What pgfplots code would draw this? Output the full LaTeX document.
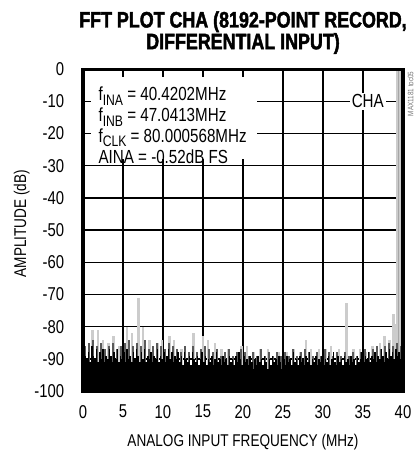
\documentclass[border=0pt]{standalone}
\usepackage{pgfplots}
\pgfplotsset{compat=1.18}
\usepackage{pgfplotstable}
\usepackage{fontspec}
\setmainfont{Liberation Sans}[FakeStretch=0.8]
\newfontfamily\titlefont{Liberation Sans Bold}[FakeStretch=0.8,FakeBold=2]
\newcommand{\sbs}[1]{\raisebox{-0.45ex}{\fontsize{7.7}{8}\selectfont #1}}

% noise floor envelope (dB)
\pgfplotstableread{
f db
0 -88
0.5 -92
1 -91
1.5 -93
2 -92
2.5 -94
3 -92
3.5 -93
4 -91
4.5 -94
5 -92
5.5 -93
6 -91
6.5 -94
7 -92
7.5 -93
8 -94
8.5 -92
9 -93
9.5 -95
10 -92
10.5 -94
11 -93
11.5 -95
12 -93
12.5 -94
13 -95
13.5 -93
14 -94
14.5 -96
15 -93
15.5 -95
16 -94
16.5 -95
17 -93
17.5 -95
18 -96
18.5 -94
19 -95
19.5 -93
20 -94
20.5 -96
21 -94
21.5 -95
22 -93
22.5 -95
23 -96
23.5 -94
24 -95
24.5 -93
25 -95
25.5 -96
26 -94
26.5 -95
27 -93
27.5 -95
28 -94
28.5 -96
29 -94
29.5 -95
30 -93
30.5 -95
31 -94
31.5 -96
32 -94
32.5 -93
33 -95
33.5 -94
34 -95
34.5 -93
35 -94
35.5 -92
36 -94
36.5 -93
37 -92
37.5 -94
38 -92
38.5 -93
39 -91
39.5 -92
40 -91
}\floor

% dark noise spikes (dB)
\pgfplotstableread{
f db
0.1 -87
0.3 -89
0.5 -90
0.7 -88
0.9 -91
1.1 -86
1.3 -89
1.5 -90
1.7 -87
1.9 -91
2.1 -88
2.3 -90
2.5 -87
2.7 -91
2.9 -89
3.1 -90
3.3 -87
3.5 -89
3.7 -91
3.9 -88
4.1 -90
4.3 -87
4.5 -91
4.7 -89
4.9 -90
5.1 -88
5.3 -91
5.5 -87
5.7 -90
5.9 -89
6.1 -91
6.3 -88
6.5 -90
6.7 -87
6.9 -89
7.1 -91
7.3 -88
7.5 -90
7.7 -87
7.9 -91
8.1 -89
8.3 -90
8.5 -88
8.7 -91
8.9 -89
9.1 -90
9.3 -87
9.5 -91
9.7 -89
9.9 -90
10.1 -88
10.3 -91
10.5 -89
10.7 -87
10.9 -90
11.1 -88
11.3 -91
11.5 -89
11.7 -90
11.9 -88
12.1 -91
12.3 -89
12.5 -92
12.7 -88
12.9 -90
13.1 -91
13.3 -89
13.5 -92
13.7 -88
13.9 -90
14.1 -91
14.3 -89
14.5 -92
14.7 -90
14.9 -88
15.1 -91
15.3 -89
15.5 -92
15.7 -90
15.9 -91
16.1 -89
16.3 -92
16.5 -90
16.7 -88
16.9 -91
17.1 -90
17.3 -92
17.5 -89
17.7 -91
17.9 -90
18.1 -92
18.3 -89
18.5 -91
18.7 -90
18.9 -92
19.1 -89
19.3 -91
19.5 -88
19.7 -90
19.9 -92
20.1 -89
20.3 -91
20.5 -90
20.7 -92
20.9 -89
21.1 -91
21.3 -93
21.5 -90
21.7 -92
21.9 -89
22.1 -91
22.3 -90
22.5 -92
22.7 -89
22.9 -91
23.1 -93
23.3 -90
23.5 -92
23.7 -89
23.9 -91
24.1 -90
24.3 -92
24.5 -89
24.7 -91
24.9 -93
25.1 -90
25.3 -92
25.5 -89
25.7 -91
25.9 -90
26.1 -92
26.3 -88
26.5 -91
26.7 -90
26.9 -92
27.1 -89
27.3 -91
27.5 -90
27.7 -92
27.9 -89
28.1 -91
28.3 -88
28.5 -92
28.7 -90
28.9 -91
29.1 -89
29.3 -92
29.5 -90
29.7 -91
29.9 -89
30.1 -92
30.3 -90
30.5 -91
30.7 -89
30.9 -92
31.1 -90
31.3 -88
31.5 -91
31.7 -92
31.9 -89
32.1 -91
32.3 -90
32.5 -92
32.7 -89
32.9 -91
33.1 -90
33.3 -92
33.5 -89
33.7 -91
33.9 -90
34.1 -92
34.3 -89
34.5 -91
34.7 -90
34.9 -88
35.1 -91
35.3 -89
35.5 -90
35.7 -88
35.9 -91
36.1 -89
36.3 -90
36.5 -88
36.7 -91
36.9 -89
37.1 -90
37.3 -87
37.5 -89
37.7 -91
37.9 -88
38.1 -90
38.3 -87
38.5 -89
38.7 -88
38.9 -90
39.1 -87
39.3 -89
39.5 -88
39.7 -90
39.9 -88
}\dark

% medium grey spikes (dB)
\pgfplotstableread{
f db
0.25 -86
0.75 -85
1.25 -84
1.75 -86
2.25 -85
2.75 -87
3.25 -86
3.75 -85
4.25 -87
4.75 -86
5.25 -85
5.75 -84
6.25 -86
6.75 -85
7.25 -86
7.75 -84
8.25 -87
8.75 -86
9.25 -85
9.75 -86
10.25 -87
10.75 -85
11.25 -86
11.75 -87
12.25 -88
12.75 -86
13.25 -88
13.75 -86
14.25 -88
14.75 -87
15.25 -86
15.75 -87
16.25 -88
16.75 -87
17.25 -89
17.75 -88
18.25 -87
18.75 -89
19.25 -88
19.75 -87
20.25 -88
20.75 -89
21.25 -88
21.75 -89
22.25 -87
22.75 -89
23.25 -88
23.75 -89
24.25 -88
24.75 -89
25.25 -88
25.75 -89
26.25 -87
26.75 -89
27.25 -88
27.75 -87
28.25 -88
28.75 -89
29.25 -88
29.75 -89
30.25 -87
30.75 -88
31.25 -89
31.75 -88
32.25 -89
32.75 -88
33.25 -89
33.75 -88
34.25 -89
34.75 -88
35.25 -87
35.75 -88
36.25 -87
36.75 -86
37.25 -87
37.75 -86
38.25 -85
38.75 -86
39.25 -85
39.75 -86
}\mid

% tall light spurs (dB)
\pgfplotstableread{
f db
1.2 -81
1.9 -81
2.5 -84
3.2 -85
3.8 -83
4.5 -86
5.5 -80
6.1 -82
6.95 -71
7.5 -80
8.3 -84
9.3 -85
9.9 -84
10.8 -83
11.4 -84
12.3 -87
13.8 -82
15.0 -83
15.6 -84
16.5 -85
17.3 -87
18.2 -87
19.8 -86
20.5 -86
21.4 -88
22.2 -87
23.1 -87
24.5 -88
25.5 -88
26.3 -87
27.1 -88
27.9 -84
28.5 -87
29.5 -87
30.3 -87
31.0 -86
32.0 -87
32.95 -72.5
33.8 -87
34.6 -87
35.4 -88
36.2 -86
37.1 -85
37.7 -83
38.3 -84
38.8 -76
39.2 -79
}\tall

\begin{document}
\begin{tikzpicture}
\begin{axis}[
  name=ax,
  width=162pt, height=163pt, scale only axis,
  xmin=0, xmax=40, ymin=0, ymax=100,
  xtick={0,5,...,40},
  ytick={0,10,...,100},
  yticklabels={-100,-90,-80,-70,-60,-50,-40,-30,-20,-10,0},
  /pgf/number format/assume math mode=true,
  tick label style={font=\fontsize{9.4}{10}\selectfont},
  xticklabel style={yshift=-3.5pt},
  yticklabel style={xshift=-6pt},
  grid=major,
  major grid style={black, line width=0.7pt},
  tick align=inside,
  major tick length=4pt,
  tick style={black, line width=0.7pt},
  axis line style={line width=1.6pt},
  xlabel={ANALOG INPUT FREQUENCY (MHz)},
  ylabel={AMPLITUDE (dB)},
  label style={font=\fontsize{8.6}{10}\selectfont},
  xlabel style={at={(axis description cs:0.5,0)}, anchor=center, yshift=-26pt},
  ylabel style={at={(axis description cs:0,0.52)}, anchor=center, yshift=31pt},
]
\addplot[ycomb, gray!40, line width=1.2pt] table[x=f, y expr=\thisrow{db}+100] {\tall};
% fundamental (alias of f_INA), about -0.5 dB
\addplot[ycomb, gray!40, line width=2.2pt] coordinates {(39.45,99.5)};
\addplot[ycomb, gray!70, line width=0.6pt] coordinates {(39.45,99.5)};
\addplot[ycomb, black!65, line width=0.7pt] table[x=f, y expr=\thisrow{db}+100] {\mid};
\addplot[ycomb, black, line width=0.85pt] table[x=f, y expr=\thisrow{db}+100] {\dark};
\addplot[fill=black, draw=black, line width=0.3pt] table[x=f, y expr=\thisrow{db}+100] {\floor} \closedcycle;

\fill[white] (axis cs:0.2,99.4) rectangle (axis cs:21.7,72);
\draw[black, line width=0.7pt] (axis cs:5,100) -- (axis cs:5,97.55);
\draw[black, line width=0.7pt] (axis cs:10,100) -- (axis cs:10,97.55);
\draw[black, line width=0.7pt] (axis cs:15,100) -- (axis cs:15,97.55);
\draw[black, line width=0.7pt] (axis cs:20,100) -- (axis cs:20,97.55);
\draw[black, line width=0.7pt] (axis cs:0,90) -- (axis cs:0.99,90);
\draw[black, line width=0.7pt] (axis cs:0,80) -- (axis cs:0.99,80);
\draw[black, line width=2pt] (rel axis cs:0,0) rectangle (rel axis cs:1,1);

\node[anchor=north west, align=left, inner sep=0pt, font=\fontsize{9.6}{10.5}\selectfont]
  at (axis cs:1.9,94.5) {f\sbs{INA} = 40.4202MHz\\ f\sbs{INB} = 47.0413MHz\\ f\sbs{CLK} = 80.000568MHz\\ AINA = -0.52dB FS};
\node[fill=white, inner sep=1pt, font=\fontsize{9.6}{10}\selectfont] at (axis cs:35.6,90) {CHA};
\end{axis}
\node[font=\titlefont\fontsize{11.3}{12}\selectfont] at ([yshift=24pt]ax.north) {FFT PLOT CHA (8192-POINT RECORD,};
\node[font=\titlefont\fontsize{11.3}{12}\selectfont] at ([yshift=13pt]ax.north) {DIFFERENTIAL INPUT)};
\node[rotate=90, anchor=north east, inner sep=0pt, text=black!55, font=\fontsize{4}{5}\selectfont] at ([xshift=2.2pt,yshift=-1pt]ax.north east) {MAX1181 toc05};
\path ([xshift=-42pt,yshift=-30.5pt]ax.south west) rectangle ([xshift=5.5pt,yshift=35pt]ax.north east);
\end{tikzpicture}
\end{document}
